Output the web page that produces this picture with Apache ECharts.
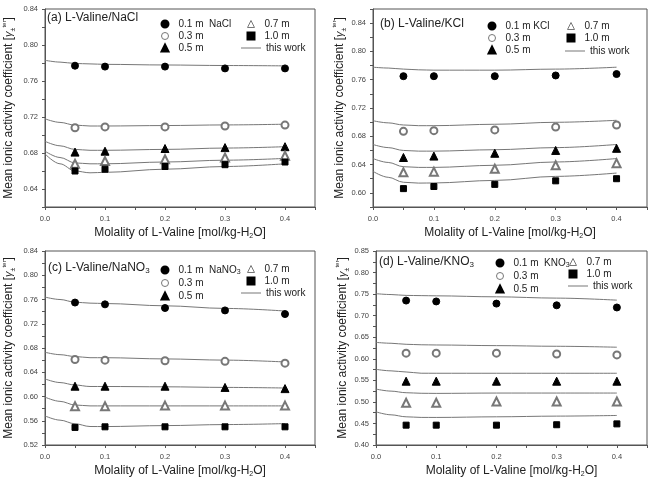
<!DOCTYPE html>
<html>
<head>
<meta charset="utf-8">
<script src="https://cdn.jsdelivr.net/npm/echarts@6/dist/echarts.min.js"></script>
<style>
  html, body { margin: 0; padding: 0; background: #fff; }
  #chart { width: 651px; height: 479px; }
</style>
</head>
<body>
<div id="chart"></div>
<script>
// x positions of the measured points and of the model curves
const xPts = [0.05, 0.1, 0.2, 0.3, 0.4];
const xFit = [0, 0.025, 0.05, 0.075, 0.1, 0.2, 0.3, 0.4];
const xTicks = [0.0, 0.1, 0.2, 0.3, 0.4];

// (a) L-Valine/NaCl
const aPts01 = [0.777, 0.776, 0.776, 0.774, 0.774];
const aPts03 = [0.708, 0.709, 0.709, 0.710, 0.711];
const aPts05 = [0.681, 0.682, 0.685, 0.686, 0.687];
const aPts07 = [0.668, 0.671, 0.673, 0.675, 0.677];
const aPts10 = [0.660, 0.662, 0.665, 0.667, 0.670];
const aFit01 = [0.783, 0.781, 0.7795, 0.779, 0.7785, 0.7778, 0.7772, 0.7768];
const aFit03 = [0.718, 0.714, 0.711, 0.710, 0.710, 0.7105, 0.7112, 0.712];
const aFit05 = [0.693, 0.688, 0.684, 0.683, 0.683, 0.684, 0.6855, 0.687];
const aFit07 = [0.682, 0.675, 0.669, 0.668, 0.668, 0.670, 0.672, 0.674];
const aFit10 = [0.679, 0.668, 0.660, 0.658, 0.6585, 0.662, 0.665, 0.668];

// (b) L-Valine/KCl
const bPts01 = [0.765, 0.765, 0.765, 0.766, 0.768];
const bPts03 = [0.687, 0.688, 0.689, 0.693, 0.696];
const bPts05 = [0.650, 0.652, 0.656, 0.660, 0.663];
const bPts07 = [0.629, 0.630, 0.634, 0.639, 0.642];
const bPts10 = [0.606, 0.609, 0.612, 0.617, 0.620];
const bFit01 = [0.7777, 0.7765, 0.775, 0.774, 0.7735, 0.7735, 0.775, 0.7777];
const bFit03 = [0.702, 0.699, 0.696, 0.695, 0.695, 0.697, 0.6998, 0.7026];
const bFit05 = [0.6684, 0.664, 0.660, 0.659, 0.659, 0.661, 0.664, 0.6684];
const bFit07 = [0.6485, 0.643, 0.637, 0.636, 0.636, 0.639, 0.6437, 0.6485];
const bFit10 = [0.6304, 0.622, 0.615, 0.6138, 0.614, 0.6176, 0.6233, 0.628];

// (c) L-Valine/NaNO3
const cPts01 = [0.755, 0.752, 0.746, 0.742, 0.736];
const cPts03 = [0.661, 0.660, 0.659, 0.658, 0.655];
const cPts05 = [0.617, 0.617, 0.617, 0.615, 0.613];
const cPts07 = [0.584, 0.584, 0.585, 0.585, 0.585];
const cPts10 = [0.549, 0.550, 0.550, 0.550, 0.550];
const cFit01 = [0.764, 0.760, 0.7556, 0.754, 0.7534, 0.7496, 0.7453, 0.741];
const cFit03 = [0.673, 0.669, 0.666, 0.664, 0.664, 0.662, 0.660, 0.657];
const cFit05 = [0.629, 0.623, 0.619, 0.6165, 0.6165, 0.616, 0.615, 0.614];
const cFit07 = [0.599, 0.592, 0.586, 0.5845, 0.5845, 0.5845, 0.5845, 0.5845];
const cFit10 = [0.568, 0.561, 0.555, 0.5505, 0.5504, 0.552, 0.5537, 0.5553];

// (d) L-Valine/KNO3
const dPts01 = [0.735, 0.733, 0.728, 0.724, 0.719];
const dPts03 = [0.613, 0.613, 0.613, 0.611, 0.609];
const dPts05 = [0.548, 0.548, 0.548, 0.548, 0.548];
const dPts07 = [0.498, 0.498, 0.501, 0.501, 0.501];
const dPts10 = [0.446, 0.446, 0.446, 0.447, 0.449];
const dFit01 = [0.751, 0.749, 0.747, 0.7465, 0.746, 0.7437, 0.7407, 0.736];
const dFit03 = [0.638, 0.636, 0.6336, 0.6325, 0.632, 0.6305, 0.629, 0.6268];
const dFit05 = [0.5755, 0.572, 0.5694, 0.5665, 0.5664, 0.5664, 0.5664, 0.5664];
const dFit07 = [0.5297, 0.525, 0.5213, 0.520, 0.5197, 0.5205, 0.5205, 0.5205];
const dFit10 = [0.4769, 0.470, 0.4654, 0.464, 0.4639, 0.4654, 0.467, 0.4685];

const seriesNames = ['0.3 m', '0.5 m', '0.7 m', '1.0 m'];
const fitName = 'this work';

// legend spots: [left, top, itemGap]
const panels = [
    { title: '(a) L-Valine/NaCl', salt: '0.1 m  NaCl',
      grid: { left: 43, top: 9, right: 336, bottom: 272 },
      yMin: 0.62, yMax: 0.84, yStep: 0.02, yLabelStep: 0.04, nameGap: 28,
      titlePos: [47, 11], leg1: [160.5, 18, 0], leg2: [246.5, 18, 0], leg3: [241, 42],
      pts: [aPts01, aPts03, aPts05, aPts07, aPts10],
      fit: [aFit01, aFit03, aFit05, aFit07, aFit10] },
    { title: '(b) L-Valine/KCl', salt: '0.1 m KCl',
      grid: { left: 373, top: 9, right: 4, bottom: 272 },
      yMin: 0.58, yMax: 0.86, yStep: 0.02, yLabelStep: 0.04, nameGap: 22,
      titlePos: [380, 17], leg1: [487.5, 20, 0], leg2: [566.5, 20, 0], leg3: [565, 45],
      pts: [bPts01, bPts03, bPts05, bPts07, bPts10],
      fit: [bFit01, bFit03, bFit05, bFit07, bFit10] },
    { title: '(c) L-Valine/NaNO3', salt: '0.1 m  NaNO3',
      grid: { left: 43, top: 251, right: 336, bottom: 31 },
      yMin: 0.52, yMax: 0.84, yStep: 0.02, yLabelStep: 0.04, nameGap: 28,
      titlePos: [48, 261], leg1: [160.5, 264, 1], leg2: [246.5, 263, 0], leg3: [241, 287],
      pts: [cPts01, cPts03, cPts05, cPts07, cPts10],
      fit: [cFit01, cFit03, cFit05, cFit07, cFit10] },
    { title: '(d) L-Valine/KNO3', salt: '0.1 m  KNO3',
      grid: { left: 376, top: 251, right: 4, bottom: 31 },
      yMin: 0.40, yMax: 0.85, yStep: 0.025, yLabelStep: 0.05, nameGap: 25,
      titlePos: [379, 255], leg1: [495.5, 257, 1], leg2: [568.5, 256, 0], leg3: [568, 280],
      pts: [dPts01, dPts03, dPts05, dPts07, dPts10],
      fit: [dFit01, dFit03, dFit05, dFit07, dFit10] }
];

const FONT = 'Liberation Sans, Arial, sans-serif';
const AXIS = '#555';
const INK = '#222';

// point styles: filled circle, open circle, filled triangle, open triangle, filled square
const marks = [
    { symbol: 'circle', size: 7, color: '#000' },
    { symbol: 'emptyCircle', size: 7, color: '#777' },
    { symbol: 'triangle', size: 8, color: '#000' },
    { symbol: 'emptyTriangle', size: 8, color: '#777' },
    { symbol: 'rect', size: 6, color: '#000' }
];

const subRich = {
    s: { fontSize: 7, verticalAlign: 'bottom', fontFamily: FONT, color: INK }
};
const withSub = s => s.replace(/NO3$/, 'NO{s|3}');

function onStep(v, step) {
    const r = v / step;
    return Math.abs(r - Math.round(r)) < 1e-6;
}

// legend entry; open symbols get a thin outline like the plot marks
function legendItem(name, m) {
    if (m.symbol.indexOf('empty') === 0) {
        const base = m.symbol.slice(5).toLowerCase();
        return { name: name, icon: base,
                 itemStyle: { color: '#fff', borderColor: m.color, borderWidth: 1 } };
    }
    return { name: name };
}

const option = {
    animation: false,
    backgroundColor: '#fff',
    title: [], grid: [], xAxis: [], yAxis: [], legend: [], series: []
};

panels.forEach((p, i) => {
    option.grid.push(Object.assign({
        show: true, borderColor: AXIS, borderWidth: 1, backgroundColor: 'transparent'
    }, p.grid));

    option.title.push({
        text: withSub(p.title), left: p.titlePos[0], top: p.titlePos[1], padding: 0,
        textStyle: { fontFamily: FONT, fontSize: 12, fontWeight: 'normal', color: INK,
            lineHeight: 14,
            rich: { s: { fontSize: 8, verticalAlign: 'bottom', fontFamily: FONT, color: INK } } }
    });

    option.xAxis.push({
        type: 'value', gridIndex: i, min: 0, max: 0.45, interval: 0.05,
        name: 'Molality of L-Valine [mol/kg-H{s|2}O]',
        nameLocation: 'middle', nameGap: 19,
        nameTextStyle: { fontFamily: FONT, fontSize: 12, color: INK, lineHeight: 14,
            rich: { s: { fontSize: 7, verticalAlign: 'bottom', fontFamily: FONT, color: INK } } },
        axisLine: { show: true, lineStyle: { color: AXIS, width: 1 } },
        axisTick: { show: true, length: 3, lineStyle: { color: AXIS } },
        splitLine: { show: false },
        axisLabel: {
            fontFamily: FONT, fontSize: 7.5, color: '#444', margin: 8,
            formatter: v => xTicks.some(t => Math.abs(t - v) < 1e-6) ? v.toFixed(1) : ''
        }
    });

    option.yAxis.push({
        type: 'value', gridIndex: i, min: p.yMin, max: p.yMax, interval: p.yStep,
        name: 'Mean ionic activity coefficient [{g|γ}{sb|±}{sp|ter}]',
        nameLocation: 'middle', nameGap: p.nameGap,
        nameTextStyle: { fontFamily: FONT, fontSize: 12, color: INK, lineHeight: 16,
            rich: {
                g: { fontSize: 11, fontStyle: 'italic', fontFamily: FONT, color: INK },
                sb: { fontSize: 7, verticalAlign: 'bottom', fontFamily: FONT, color: INK },
                sp: { fontSize: 6, verticalAlign: 'top', fontFamily: FONT, color: INK }
            } },
        axisLine: { show: true, lineStyle: { color: AXIS, width: 1 } },
        axisTick: { show: true, length: 3, lineStyle: { color: AXIS } },
        splitLine: { show: false },
        axisLabel: {
            fontFamily: FONT, fontSize: 7.5, color: '#444', margin: 7,
            formatter: v => onStep(v, p.yLabelStep) ? v.toFixed(2) : ''
        }
    });

    const names = [p.salt].concat(seriesNames);

    // model curves
    p.fit.forEach(arr => {
        option.series.push({
            type: 'line', name: fitName, xAxisIndex: i, yAxisIndex: i,
            data: xFit.map((x, k) => [x, arr[k]]),
            symbol: 'none', smooth: 0.35, smoothMonotone: 'x',
            lineStyle: { color: '#777', width: 1 }, itemStyle: { color: '#777' }, z: 2
        });
    });

    // measured points
    p.pts.forEach((arr, j) => {
        const m = marks[j];
        option.series.push({
            type: 'scatter', name: names[j], xAxisIndex: i, yAxisIndex: i,
            data: xPts.map((x, k) => [x, arr[k]]),
            symbol: m.symbol, symbolSize: m.size,
            itemStyle: { color: m.color, borderColor: m.color, borderWidth: 1, opacity: 1 }, z: 3
        });
    });

    const markerLegend = {
        orient: 'vertical', padding: 0, itemWidth: 7, itemHeight: 7, selectedMode: false,
        textStyle: { fontFamily: FONT, fontSize: 10, color: INK, lineHeight: 12,
            padding: [0, 0, 0, 5], rich: subRich },
        formatter: withSub
    };
    option.legend.push(Object.assign({}, markerLegend, {
        left: p.leg1[0], top: p.leg1[1], itemGap: p.leg1[2],
        data: [0, 1, 2].map(j => legendItem(names[j], marks[j]))
    }));
    option.legend.push(Object.assign({}, markerLegend, {
        left: p.leg2[0], top: p.leg2[1], itemGap: p.leg2[2],
        data: [3, 4].map(j => legendItem(names[j], marks[j]))
    }));
    option.legend.push({
        orient: 'vertical', padding: 0, itemWidth: 20, itemHeight: 1, selectedMode: false,
        left: p.leg3[0], top: p.leg3[1], icon: 'rect',
        itemStyle: { color: '#777' },
        textStyle: { fontFamily: FONT, fontSize: 10, color: INK, lineHeight: 12 },
        data: [fitName]
    });
});

const chart = echarts.init(document.getElementById('chart'), null, { renderer: 'canvas' });
chart.setOption(option);
</script>
</body>
</html>
